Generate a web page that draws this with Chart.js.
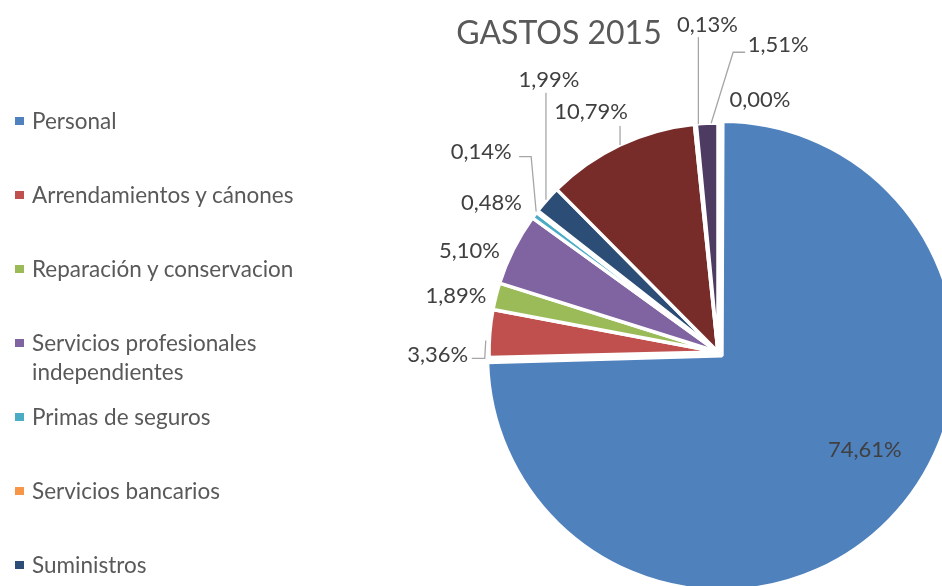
<!DOCTYPE html>
<html lang="es">
<head>
<meta charset="utf-8">
<title>GASTOS 2015</title>
<script src="https://cdn.jsdelivr.net/npm/chart.js@4.4.1/dist/chart.umd.min.js"></script>
<style>
    html, body { margin: 0; padding: 0; background: #fff; overflow: hidden; }
    #wrap { position: relative; width: 942px; height: 586px; overflow: hidden; font-family: Lato, "Open Sans", sans-serif; }
    #title { position: absolute; left: 559px; top: 12px; transform: translateX(-50%); font-size: 32px; line-height: 40px; color: #595959; white-space: nowrap; }
    #legend { position: absolute; left: 15px; top: 106px; list-style: none; margin: 0; padding: 0; }
    #legend li { height: 74px; display: flex; align-items: flex-start; }
    #legend .sw { width: 9px; height: 8px; margin-top: 11px; margin-right: 8px; flex: none; }
    #legend .tx { font-size: 22.5px; line-height: 29px; color: #595959; width: 300px; }
    #chartBox { position: absolute; left: 0; top: 0; width: 942px; height: 586px; }
</style>
</head>
<body>
<div id="wrap">
    <div id="chartBox"><canvas id="pieChart"></canvas></div>
    <div id="title">GASTOS 2015</div>
    <ul id="legend"></ul>
</div>
<script>
// categories (only the first seven are visible in the cut-off legend)
const categories = [
    'Personal',
    'Arrendamientos y cánones',
    'Reparación y conservacion',
    'Servicios profesionales independientes',
    'Primas de seguros',
    'Servicios bancarios',
    'Suministros',
    'Otros servicios',
    'Tributos',
    'Gastos financieros',
    'Otros gastos'
];
// share of total expenses, %
const shares = [74.61, 3.36, 1.89, 5.10, 0.48, 0.14, 1.99, 10.79, 0.13, 1.51, 0.00];
const colors = ['#4F81BD', '#C0504D', '#9BBB59', '#8064A2', '#4BACC6', '#F79646',
                '#2C4D75', '#772C2A', '#5F7530', '#4D3B62', '#276A7C'];

// label placement: text centre offset from the slice's outer mid point,
// plus optional leader line points (same offsets, last one ends at the slice)
const labelLayout = [
    { dx: -25, dy: -70 },
    { dx: -52, dy: 21, leader: [[-18, 25], [-5, 25], [-4, 7]] },
    { dx: -40, dy: 0 },
    { dx: -44, dy: 2 },
    { dx: -43, dy: -12 },
    { dx: -56, dy: -60, leader: [[-18, -55], [-6, -55], [-1, 0]] },
    { dx: 2, dy: -120, leader: [[-1, -107], [-1, 0]] },
    { dx: -29, dy: -33, leader: [[0, -19], [0, 0]] },
    { dx: 12, dy: -99, leader: [[3, -87], [3, 0]] },
    { dx: 71, dy: -78, leader: [[38, -71], [26, -71], [4, 0]] },
    { dx: 42, dy: -23 }
];

function pct(v) {
    return v.toFixed(2).replace('.', ',') + '%';
}

// html legend
document.getElementById('legend').innerHTML = categories.map((c, i) => `
    <li><span class="sw" style="background:${colors[i]}"></span><span class="tx">${c}</span></li>
`).join('');

const pieLabels = {
    id: 'pieLabels',
    afterDatasetsDraw(chart) {
        const ctx = chart.ctx;
        const meta = chart.getDatasetMeta(0);
        ctx.save();
        ctx.font = '22px Lato, "Open Sans", sans-serif';
        ctx.textAlign = 'center';
        ctx.textBaseline = 'middle';
        meta.data.forEach((arc, i) => {
            const p = arc.getProps(['x', 'y', 'startAngle', 'endAngle', 'outerRadius'], true);
            const mid = (p.startAngle + p.endAngle) / 2;
            const shift = (arc.options.offset || 0) / 4;
            const r = p.outerRadius + shift * 2;
            const ax = p.x + Math.cos(mid) * r;
            const ay = p.y + Math.sin(mid) * r;
            const lay = labelLayout[i];
            if (lay.leader) {
                ctx.strokeStyle = '#A6A6A6';
                ctx.lineWidth = 1.3;
                ctx.beginPath();
                lay.leader.forEach(([lx, ly], k) => {
                    if (k === 0) ctx.moveTo(ax + lx, ay + ly);
                    else ctx.lineTo(ax + lx, ay + ly);
                });
                ctx.stroke();
            }
            ctx.fillStyle = '#404040';
            ctx.fillText(pct(shares[i]), ax + lay.dx, ay + lay.dy);
        });
        ctx.restore();
    }
};

new Chart(document.getElementById('pieChart'), {
    type: 'pie',
    data: {
        labels: categories,
        datasets: [{
            data: shares,
            backgroundColor: colors,
            borderColor: '#ffffff',
            borderWidth: 3.5,
            offset: shares.map((v, i) => i === 0 ? 22 : 0),
            clip: false
        }]
    },
    options: {
        responsive: true,
        maintainAspectRatio: false,
        animation: false,
        radius: 229,
        layout: { padding: { left: 494, top: 118, right: 0, bottom: 0 } },
        plugins: {
            legend: { display: false },
            tooltip: { enabled: false },
            title: { display: false }
        }
    },
    plugins: [pieLabels]
});
</script>
</body>
</html>
